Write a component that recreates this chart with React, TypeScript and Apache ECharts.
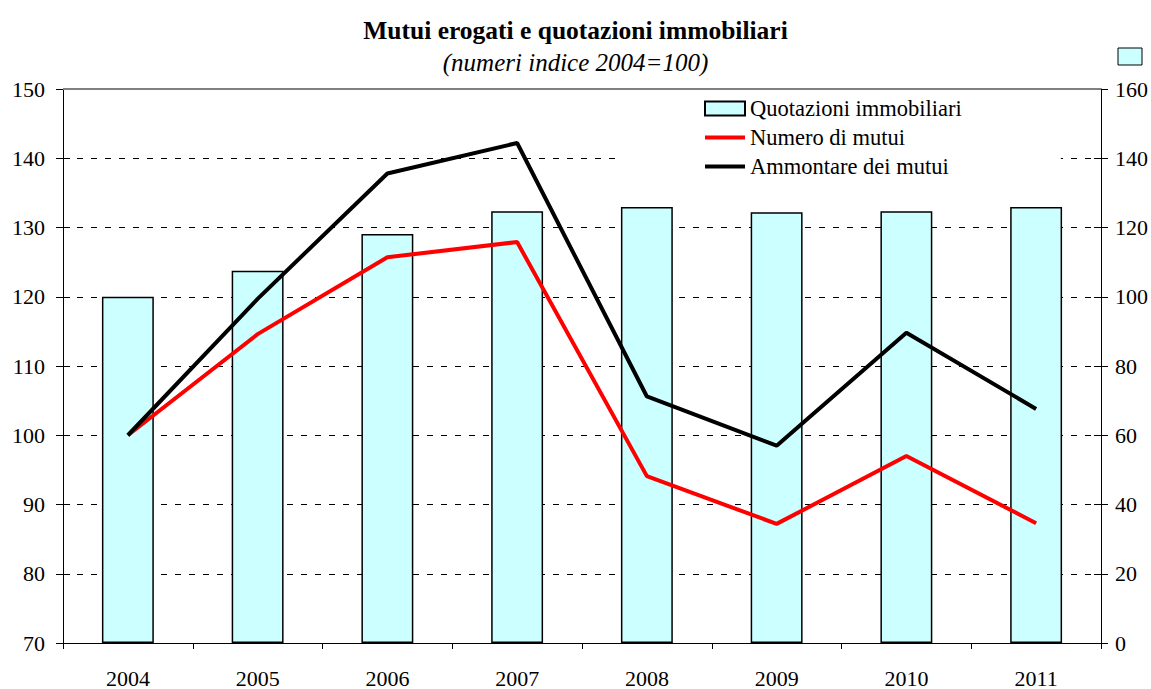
import React, { useEffect, useRef } from "react";
import * as echarts from "echarts";

const years = ["2004", "2005", "2006", "2007", "2008", "2009", "2010", "2011"];
const quotazioni = [100, 107.5, 118.1, 124.7, 125.9, 124.4, 124.7, 125.9];
const numeroMutui = [100, 114.6, 125.7, 127.9, 94.1, 87.2, 97.0, 87.3];
const ammontareMutui = [100, 119.7, 137.8, 142.2, 105.6, 98.5, 114.8, 103.8];
const topFrameValue = 150;

const FONT = "Liberation Serif";

export default function App() {
  const ref = useRef<HTMLDivElement>(null);
  useEffect(() => {
    if (!ref.current) return;
    const chart = echarts.init(ref.current, undefined, { renderer: "svg" });
    const axisLine = { show: true, lineStyle: { color: "#000", width: 1 } };
    const hiddenSym = { opacity: 0, borderWidth: 0, color: "transparent", borderColor: "transparent" };
    const AX = 22;
    chart.setOption({
      animation: false,
      backgroundColor: "#fff",
      textStyle: { fontFamily: FONT, color: "#000" },
      title: [
        {
          text: "Mutui erogati e quotazioni immobiliari",
          left: "center",
          top: 12,
          textStyle: { fontFamily: FONT, fontSize: 25.5, fontWeight: "bold", color: "#000" },
        },
        {
          text: "(numeri indice 2004=100)",
          left: "center",
          top: 45,
          textStyle: { fontFamily: FONT, fontSize: 25, fontStyle: "italic", fontWeight: "normal", color: "#000" },
        },
      ],
      graphic: [
        {
          type: "rect",
          shape: { x: 1118, y: 48, width: 24, height: 17 },
          style: { fill: "#CCFFFF", stroke: "#000", lineWidth: 1 },
        },
      ],
      legend: {
        orient: "vertical",
        left: 615,
        top: 92,
        padding: [5, 99, 14, 88],
        backgroundColor: "#fff",
        itemWidth: 40,
        itemHeight: 14,
        itemGap: 6,
        textStyle: { fontFamily: FONT, fontSize: 22.5, lineHeight: 22, color: "#000", padding: [0, 0, 0, 0] },
        data: [
          { name: "Quotazioni immobiliari", icon: "rect" },
          { name: "Numero di mutui", itemStyle: hiddenSym, lineStyle: { width: 4, color: "#FF0000" } },
          { name: "Ammontare dei mutui", itemStyle: hiddenSym, lineStyle: { width: 4, color: "#000" } },
        ],
      },
      grid: { left: 63, right: 47, top: 89, bottom: 42, containLabel: false },
      xAxis: [
        {
          type: "category",
          data: years,
          boundaryGap: true,
          axisLine,
          axisTick: { show: true, inside: false, length: 6, alignWithLabel: false, lineStyle: { color: "#000" } },
          axisLabel: { fontFamily: FONT, fontSize: AX, color: "#000", margin: 24 },
          splitLine: { show: false },
        },
      ],
      yAxis: [
        {
          type: "value",
          position: "left",
          min: 70,
          max: 150,
          interval: 10,
          axisLine,
          axisTick: { show: true, inside: false, length: 7, lineStyle: { color: "#000" } },
          axisLabel: { fontFamily: FONT, fontSize: AX, color: "#000", margin: 18 },
          splitLine: { show: true, lineStyle: { color: "#000", type: [6, 8], width: 1 } },
        },
        {
          type: "value",
          position: "right",
          min: 0,
          max: 160,
          interval: 20,
          axisLine,
          axisTick: { show: true, inside: false, length: 7, lineStyle: { color: "#000" } },
          axisLabel: { fontFamily: FONT, fontSize: AX, color: "#000", margin: 14 },
          splitLine: { show: false },
        },
        {
          type: "value",
          position: "left",
          min: 70,
          max: 150,
          interval: 10,
          axisLine: { show: false },
          axisTick: { show: true, inside: true, length: 7, lineStyle: { color: "#000" } },
          axisLabel: { show: false },
          splitLine: { show: false },
        },
        {
          type: "value",
          position: "right",
          min: 0,
          max: 160,
          interval: 20,
          axisLine: { show: false },
          axisTick: { show: true, inside: true, length: 7, lineStyle: { color: "#000" } },
          axisLabel: { show: false },
          splitLine: { show: false },
        },
      ],
      series: [
        {
          name: "Quotazioni immobiliari",
          type: "bar",
          yAxisIndex: 1,
          data: quotazioni,
          barWidth: "40%",
          itemStyle: { color: "#CCFFFF", borderColor: "#000", borderWidth: 1.5 },
          z: 1,
        },
        {
          name: "Numero di mutui",
          type: "line",
          yAxisIndex: 0,
          data: numeroMutui,
          symbol: "none",
          lineStyle: { color: "#FF0000", width: 4 },
          itemStyle: { color: "#FF0000" },
          z: 3,
          markLine: {
            silent: true,
            symbol: "none",
            label: { show: false },
            lineStyle: { color: "#808080", type: "solid", width: 2 },
            data: [{ yAxis: topFrameValue }],
            z: 1,
          },
        },
        {
          name: "Ammontare dei mutui",
          type: "line",
          yAxisIndex: 0,
          data: ammontareMutui,
          symbol: "none",
          lineStyle: { color: "#000", width: 4 },
          itemStyle: { color: "#000" },
          z: 4,
        },
      ],
    });
    return () => chart.dispose();
  }, []);
  return <div ref={ref} style={{ width: 1151, height: 689, position: "absolute", left: 0, top: 0 }} />;
}
